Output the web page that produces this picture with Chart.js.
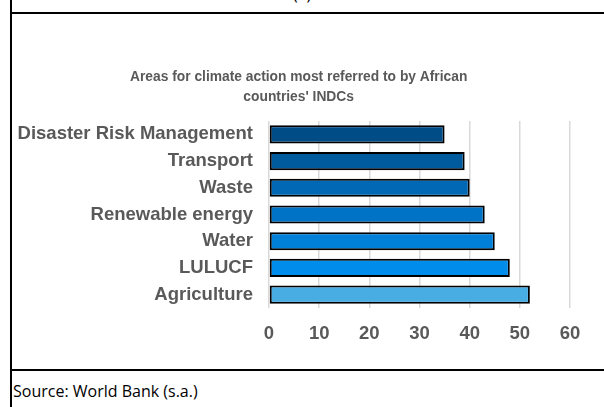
<!DOCTYPE html>
<html>
<head>
<meta charset="utf-8">
<script src="https://cdn.jsdelivr.net/npm/chart.js@4/dist/chart.umd.min.js"></script>
<style>
  body { margin: 0; background: #fff; width: 604px; height: 407px; overflow: hidden; position: relative; }
  #leftLine { position: absolute; left: 10px; top: 0; width: 2px; height: 407px; background: #000; }
  #topLine { position: absolute; left: 10px; top: 12px; width: 594px; height: 2px; background: #000; }
  #bottomLine { position: absolute; left: 10px; top: 369px; width: 594px; height: 2px; background: #000; }
  #head { position: absolute; left: 293px; top: -17px; font: 16px "Open Sans", sans-serif; color: #000; }
  #source { position: absolute; left: 13px; top: 380px; font: 16px "Open Sans", sans-serif; color: #000; white-space: nowrap; }
  #wrap { position: absolute; left: 12px; top: 14px; width: 592px; height: 355px; }
</style>
</head>
<body>
<div id="leftLine"></div>
<div id="topLine"></div>
<div id="bottomLine"></div>
<div id="head">(a)</div>
<div id="wrap"><canvas id="myChart"></canvas></div>
<div id="source">Source: World Bank (s.a.)</div>

<script>
// data
var categories = [
    "Disaster Risk Management",
    "Transport",
    "Waste",
    "Renewable energy",
    "Water",
    "LULUCF",
    "Agriculture"
];
var values = [35, 39, 40, 43, 45, 48, 52];
var barColors = ["#004C87", "#005A9E", "#0068B5", "#0073C6", "#0080D9", "#008CEB", "#47ADE3"];
var titleLines = ["Areas for climate action most referred to by African", "countries' INDCs"];

var fontFamily = "'Liberation Sans', Arial, sans-serif";
var labelFont = { family: fontFamily, size: 18.5, weight: "bold" };

// title box is centred over the whole chart, the reference sits a bit right of that
var titleIndent = "    ";

var ctx = document.getElementById("myChart").getContext("2d");
var myChart = new Chart(ctx, {
    type: "bar",
    data: {
        labels: categories,
        datasets: [{
            data: values,
            backgroundColor: barColors,
            borderColor: "#000",
            borderWidth: 2,
            borderSkipped: false,
            barPercentage: 0.68,
            categoryPercentage: 1
        }]
    },
    options: {
        indexAxis: "y",
        responsive: true,
        maintainAspectRatio: false,
        animation: false,
        layout: { padding: { left: 0, right: 34, top: 0, bottom: 0 } },
        plugins: {
            legend: { display: false },
            tooltip: { enabled: false },
            title: {
                display: true,
                text: titleLines.map(t => titleIndent + t),
                color: "#595959",
                font: { family: fontFamily, size: 13.8, weight: "bold", lineHeight: 20 / 13.8 },
                padding: { top: 53, bottom: 14 }
            }
        },
        scales: {
            x: {
                min: 0,
                max: 60,
                ticks: { stepSize: 10, color: "#595959", font: labelFont, padding: 15 },
                grid: { color: "#d9d9d9", lineWidth: 1.5, drawTicks: false },
                border: { display: false },
                afterFit: function (scale) { scale.height = 61; }
            },
            y: {
                ticks: { color: "#595959", font: labelFont, padding: 16 },
                grid: { display: false, drawTicks: false },
                border: { display: false },
                afterFit: function (scale) { scale.width = 257; }
            }
        }
    }
});
</script>
</body>
</html>
